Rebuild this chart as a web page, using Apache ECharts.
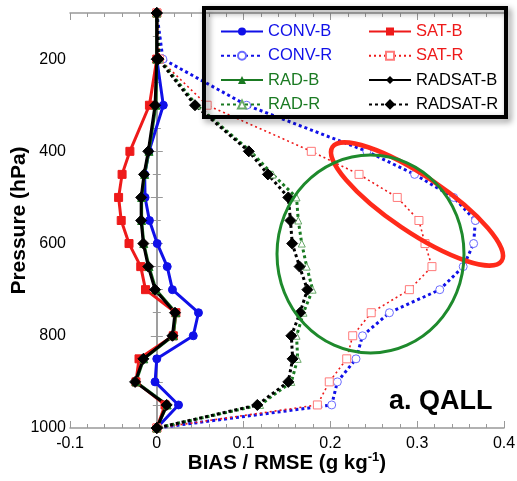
<!DOCTYPE html>
<html>
<head>
<meta charset="utf-8">
<script src="https://cdn.jsdelivr.net/npm/echarts@6/dist/echarts.min.js"></script>
<style>
  html, body { margin: 0; padding: 0; background: #fff; }
  #chart { width: 517px; height: 481px; }
</style>
</head>
<body>
<div id="chart"></div>
<script>
// Pressure levels (hPa)
const pressure = [100, 200, 300, 400, 450, 500, 550, 600, 650, 700, 750, 800, 850, 900, 950, 1000];

// Bias profiles (g/kg)
const convB   = [0, 0, 0.0075, -0.009, -0.014, -0.0135, -0.0085, 0.0005, 0.012, 0.018, 0.048, 0.042, 0.0, -0.002, 0.025, 0];
const satB    = [0, 0, -0.0085, -0.031, -0.040, -0.044, -0.041, -0.032, -0.0185, -0.013, 0.022, 0.019, -0.0205, -0.024, 0.0095, 0];
const radB    = [0, 0, -0.001, -0.009, -0.014, -0.0175, -0.0175, -0.015, -0.009, -0.001, 0.022, 0.019, -0.015, -0.024, 0.012, 0];
const radsatB = [0, 0, -0.002, -0.0098, -0.0147, -0.018, -0.018, -0.0155, -0.0098, -0.002, 0.021, 0.018, -0.0155, -0.025, 0.0114, 0];

// RMSE profiles (g/kg)
const convR   = [0, 0.007, 0.1035, 0.242, 0.297, 0.342, 0.367, 0.365, 0.353, 0.326, 0.268, 0.237, 0.2295, 0.208, 0.2015, 0];
const satR    = [0, 0.003, 0.058, 0.178, 0.233, 0.277, 0.302, 0.309, 0.317, 0.291, 0.247, 0.2257, 0.2188, 0.1987, 0.185, 0];
const radR    = [0, 0.003, 0.046, 0.108, 0.1335, 0.161, 0.163, 0.167, 0.1727, 0.1795, 0.169, 0.161, 0.1623, 0.155, 0.119, 0];
const radsatR = [0, 0.002, 0.044, 0.106, 0.128, 0.1515, 0.154, 0.156, 0.1645, 0.1735, 0.165, 0.155, 0.1565, 0.1515, 0.1158, 0];

const xTicks = [-0.1, 0, 0.1, 0.2, 0.3, 0.4];
const yTickLabels = [200, 400, 600, 800, 1000];

const BLUE = '#1010e8', RED = '#ee1a1a', GREEN = '#1a7a22', BLACK = '#000000';
const FONT = 'Liberation Sans, Arial, sans-serif';

function pairs(vals) { return vals.map((v, i) => [v, pressure[i]]); }

function solid(name, vals, color, symbol, size) {
  return {
    name, type: 'line', data: pairs(vals),
    symbol, symbolSize: size,
    lineStyle: { color, width: 3, type: 'solid' },
    itemStyle: { color, borderColor: color },
    z: 3
  };
}
function dotted(name, vals, color, symbol, size, width, dash, symFill, symBorder) {
  return {
    name, type: 'line', data: pairs(vals),
    symbol, symbolSize: size,
    lineStyle: { color, width, type: dash },
    itemStyle: { color: symFill, borderColor: symBorder, borderWidth: 1 },
    z: 3
  };
}

const chart = echarts.init(document.getElementById('chart'), null, { renderer: 'canvas' });

const axisGray = '#999999';

const option = {
  animation: false,
  backgroundColor: '#ffffff',
  textStyle: { fontFamily: FONT },
  grid: { left: 70, right: 13, top: 13, bottom: 53, containLabel: false, outerBoundsMode: 'none' },
  xAxis: [
    {
      type: 'value', position: 'bottom', min: xTicks[0], max: xTicks[xTicks.length - 1], interval: 0.1,
      axisLine: { show: true, lineStyle: { color: axisGray, width: 1.5 } },
      axisTick: { show: true, inside: true, length: 7, lineStyle: { color: axisGray } },
      minorTick: { show: true, splitNumber: 5, length: 4, lineStyle: { color: axisGray } },
      splitLine: { show: false },
      axisLabel: { color: '#000', fontSize: 16, fontFamily: FONT, margin: 8,
        formatter: v => xTicks.some(t => Math.abs(t - v) < 1e-9) ? String(Math.round(v * 10) / 10) : '' },
      name: '{a|BIAS / RMSE (g kg}{s|-1}{a|)}',
      nameLocation: 'middle', nameGap: 23, nameMoveOverlap: false,
      nameTextStyle: {
        rich: {
          a: { fontSize: 20.5, fontWeight: 'bold', fontFamily: FONT, color: '#000', lineHeight: 24 },
          s: { fontSize: 13, fontWeight: 'bold', fontFamily: FONT, color: '#000', verticalAlign: 'top', lineHeight: 15 }
        }
      }
    },
    {
      type: 'value', position: 'top', min: xTicks[0], max: xTicks[xTicks.length - 1], interval: 0.1,
      axisLine: { show: true, lineStyle: { color: axisGray, width: 1.5 } },
      axisTick: { show: true, inside: true, length: 7, lineStyle: { color: axisGray } },
      minorTick: { show: true, splitNumber: 5, length: 4, lineStyle: { color: axisGray } },
      splitLine: { show: false },
      axisLabel: { show: false }
    }
  ],
  yAxis: [
    {
      type: 'value', inverse: true, min: 100, max: 1000, interval: 100, position: 'left',
      axisLine: { show: true, lineStyle: { color: axisGray, width: 1.5 } },
      axisTick: { show: true, inside: true, length: 6, lineStyle: { color: axisGray } },
      minorTick: { show: true, splitNumber: 2, length: 4, lineStyle: { color: axisGray } },
      splitLine: { show: false },
      axisLabel: { color: '#000', fontSize: 16, fontFamily: FONT, margin: 4,
        formatter: v => yTickLabels.indexOf(v) >= 0 ? String(v) : '' },
      name: 'Pressure (hPa)', nameLocation: 'middle', nameGap: 40, nameRotate: 90, nameMoveOverlap: false,
      nameTextStyle: { fontSize: 21, fontWeight: 'bold', fontFamily: FONT, color: '#000' }
    },
    {
      type: 'value', inverse: true, min: 100, max: 1000, interval: 100, position: 'right',
      axisLine: { show: true, lineStyle: { color: axisGray, width: 1.5 } },
      axisTick: { show: true, inside: true, length: 6, lineStyle: { color: axisGray } },
      minorTick: { show: true, splitNumber: 2, length: 4, lineStyle: { color: axisGray } },
      splitLine: { show: false },
      axisLabel: { show: false }
    }
  ],
  legend: [
    {
      orient: 'vertical', left: 215, top: 18, itemWidth: 42, itemHeight: 10, itemGap: 7.3, itemTextGap: 4,
      selectedMode: false,
      textStyle: { fontSize: 16.5, fontFamily: FONT, lineHeight: 14 },
      data: [
        { name: 'CONV-B', textStyle: { color: BLUE } },
        { name: 'CONV-R', textStyle: { color: BLUE } },
        { name: 'RAD-B', textStyle: { color: GREEN } },
        { name: 'RAD-R', textStyle: { color: GREEN } }
      ]
    },
    {
      orient: 'vertical', left: 363, top: 18, itemWidth: 42, itemHeight: 10, itemGap: 7.3, itemTextGap: 4,
      selectedMode: false,
      textStyle: { fontSize: 16.5, fontFamily: FONT, lineHeight: 14 },
      data: [
        { name: 'SAT-B', textStyle: { color: RED } },
        { name: 'SAT-R', textStyle: { color: RED } },
        { name: 'RADSAT-B', textStyle: { color: BLACK } },
        { name: 'RADSAT-R', textStyle: { color: BLACK } }
      ]
    }
  ],
  series: [
    solid('CONV-B', convB, BLUE, 'circle', 8),
    dotted('CONV-R', convR, BLUE, 'circle', 8, 3, [3, 3], '#ffffff', '#6c6cff'),
    solid('SAT-B', satB, RED, 'rect', 8),
    dotted('SAT-R', satR, RED, 'rect', 8, 1.6, [2, 3], '#ffffff', '#ff7a7a'),
    solid('RAD-B', radB, GREEN, 'triangle', 8),
    dotted('RAD-R', radR, GREEN, 'triangle', 7, 3, [3, 3], '#ffffff', '#6aaa6a'),
    solid('RADSAT-B', radsatB, BLACK, 'diamond', 11),
    dotted('RADSAT-R', radsatR, BLACK, 'diamond', 11, 3, [3, 3], BLACK, BLACK)
  ],
  graphic: [
    {
      type: 'rect', z: 50,
      shape: { x: 204, y: 8, width: 302, height: 109 },
      style: { fill: 'none', stroke: '#000', lineWidth: 4,
        shadowBlur: 6, shadowColor: 'rgba(0,0,0,0.45)', shadowOffsetX: 3, shadowOffsetY: 3 }
    },
    {
      type: 'ellipse', z: 60,
      x: 417, y: 204, rotation: -34 * Math.PI / 180,
      shape: { cx: 0, cy: 0, rx: 102, ry: 28 },
      style: { fill: 'none', stroke: '#ff2a1a', lineWidth: 4.5 }
    },
    {
      type: 'ellipse', z: 61,
      shape: { cx: 370.5, cy: 254, rx: 93.5, ry: 99 },
      style: { fill: 'none', stroke: '#1e8a2c', lineWidth: 3 }
    },
    {
      type: 'text', z: 70, left: 389, top: 388,
      style: { text: 'a. QALL', font: 'bold 27px Liberation Sans, Arial, sans-serif', fill: '#000' }
    }
  ]
};

chart.setOption(option);
</script>
</body>
</html>
